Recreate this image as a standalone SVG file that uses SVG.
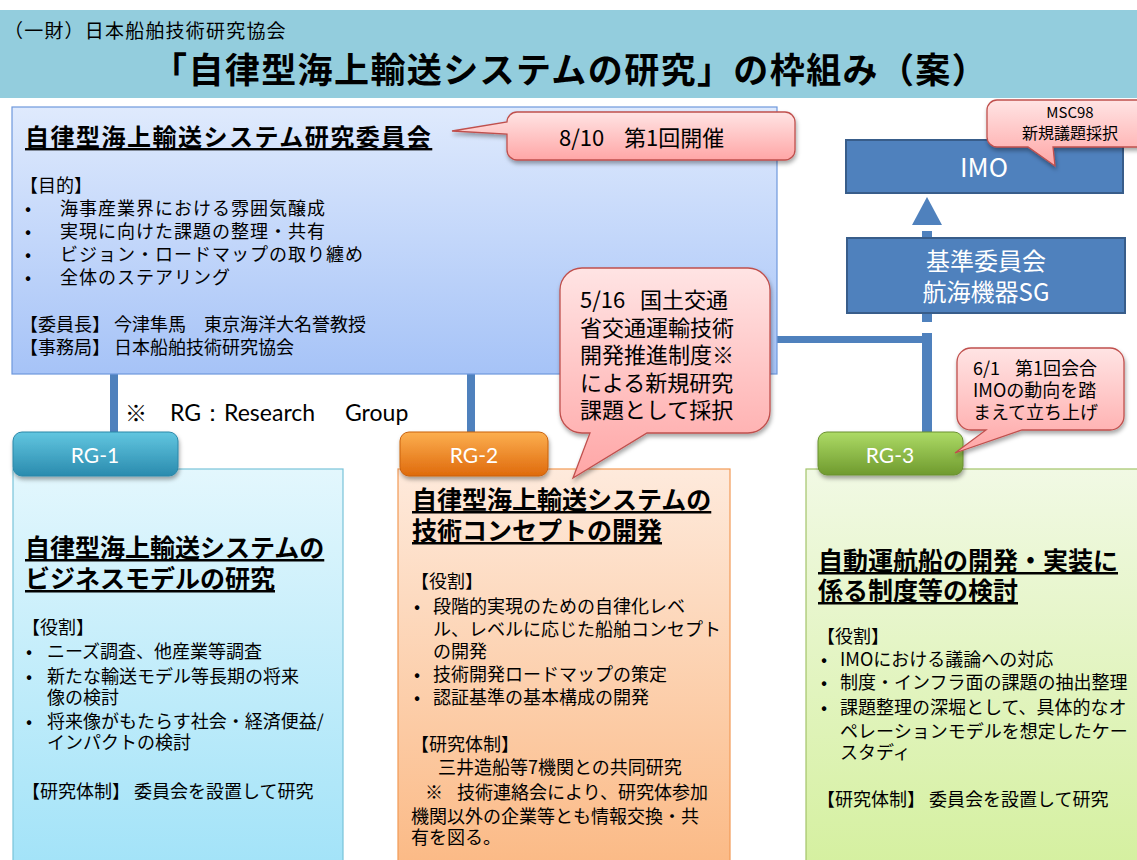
<svg xmlns="http://www.w3.org/2000/svg" width="1137" height="860" viewBox="0 0 1137 860">
<style>
.jp{font-family:"Noto Sans CJK JP","Noto Sans",sans-serif;fill:#000}
.body{font-size:18px}
.ttl{font-size:25px;font-weight:bold;text-decoration:underline}
.tab{font-family:Lato,"Open Sans",sans-serif;font-size:21px;fill:#fff;text-anchor:middle}
.wt{fill:#fff;text-anchor:middle}
.conn{fill:#4f81bd}
.call{stroke:#c0504d;stroke-width:1.3;fill:url(#gPink)}
</style>
<defs>
<linearGradient id="gMain" x1="0" y1="0" x2="0" y2="1"><stop offset="0" stop-color="#dfeafd"/><stop offset="1" stop-color="#a6c3f7"/></linearGradient>
<linearGradient id="gRG1" x1="0" y1="0" x2="0" y2="1"><stop offset="0" stop-color="#e3f7fd"/><stop offset="1" stop-color="#a3e3f8"/></linearGradient>
<linearGradient id="gRG2" x1="0" y1="0" x2="0" y2="1"><stop offset="0" stop-color="#feeadc"/><stop offset="1" stop-color="#fbba86"/></linearGradient>
<linearGradient id="gRG3" x1="0" y1="0" x2="0" y2="1"><stop offset="0" stop-color="#f1f9e4"/><stop offset="1" stop-color="#d5f0a0"/></linearGradient>
<linearGradient id="gPink" x1="0" y1="0" x2="0" y2="1"><stop offset="0" stop-color="#ffe4e4"/><stop offset="1" stop-color="#ffa6a6"/></linearGradient>
<linearGradient id="gT1" x1="0" y1="0" x2="0" y2="1"><stop offset="0" stop-color="#62c6e0"/><stop offset="1" stop-color="#2a8bae"/></linearGradient>
<linearGradient id="gT2" x1="0" y1="0" x2="0" y2="1"><stop offset="0" stop-color="#fcaf50"/><stop offset="1" stop-color="#df6a0c"/></linearGradient>
<linearGradient id="gT3" x1="0" y1="0" x2="0" y2="1"><stop offset="0" stop-color="#addb66"/><stop offset="1" stop-color="#6f9a2e"/></linearGradient>
<filter id="sh" x="-10%" y="-10%" width="130%" height="140%"><feDropShadow dx="1" dy="3" stdDeviation="2" flood-color="#000" flood-opacity="0.35"/></filter>
</defs>

<rect x="0" y="0" width="1137" height="860" fill="#fff"/>

<g id="header">
<rect x="0" y="10" width="1137" height="88" fill="#93cddd"/>
<text class="jp" x="4" y="38" font-size="19" letter-spacing="1.2">（一財）日本船舶技術研究協会</text>
<text class="jp" x="152" y="83" font-size="35" font-weight="bold" letter-spacing="1.4">「自律型海上輸送システムの研究」の枠組み（案）</text>
</g>

<g id="connectors">
<rect class="conn" x="110" y="372" width="8" height="62"/>
<rect class="conn" x="467" y="372" width="8" height="62"/>
<rect class="conn" x="776" y="336" width="156" height="7"/>
<rect class="conn" x="922" y="333" width="10" height="100"/>
<rect class="conn" x="922" y="312" width="10" height="10"/>
<rect class="conn" x="922" y="231" width="10" height="9"/>
<polygon class="conn" points="927,197 942,225 912,225"/>
</g>

<g id="main-committee">
<rect x="12" y="107" width="765" height="267" fill="url(#gMain)" stroke="#6e98dc" stroke-width="1.2"/>
<text class="jp ttl" x="25" y="146" letter-spacing="1.5" style="font-size:24px">自律型海上輸送システム研究委員会</text>
<g class="jp body">
<text x="20" y="192">【目的】</text>
<text x="25" y="215">•</text><text x="60" y="215" letter-spacing="1">海事産業界における雰囲気醸成</text>
<text x="25" y="238">•</text><text x="60" y="238" letter-spacing="1">実現に向けた課題の整理・共有</text>
<text x="25" y="261">•</text><text x="60" y="261" letter-spacing="1">ビジョン・ロードマップの取り纏め</text>
<text x="25" y="284">•</text><text x="60" y="284" letter-spacing="1">全体のステアリング</text>
<text x="20" y="331">【委員長】 今津隼馬　東京海洋大名誉教授</text>
<text x="20" y="354">【事務局】 日本船舶技術研究協会</text>
</g>
</g>

<g id="imo">
<rect x="846" y="140" width="277" height="53" fill="#4f81bd" stroke="#385d8a" stroke-width="2"/>
<text class="jp wt" x="984" y="177" font-size="26" style="fill:#fff">IMO</text>
</g>

<g id="kijun">
<rect x="847" y="238" width="278" height="75" fill="#4f81bd" stroke="#385d8a" stroke-width="2"/>
<text class="jp wt" x="986" y="270" font-size="24" style="fill:#fff">基準委員会</text>
<text class="jp wt" x="986" y="301" font-size="24" style="fill:#fff">航海機器SG</text>
</g>

<g id="rg-note">
<text class="jp" x="125" y="421" font-size="22">※</text>
<text x="170" y="421" font-family="Lato,'Open Sans',sans-serif" font-size="23" fill="#000">RG：Research</text>
<text x="345" y="421" font-family="Lato,'Open Sans',sans-serif" font-size="23" fill="#000">Group</text>
</g>

<g id="rg1">
<rect x="13" y="469" width="330" height="395" fill="url(#gRG1)" stroke="#79c3d9" stroke-width="1.2"/>
<rect x="13" y="432" width="165" height="44" rx="9" fill="url(#gT1)" stroke="#2a87a8" stroke-width="1" filter="url(#sh)"/>
<text class="tab" x="95" y="463">RG-1</text>
<text class="jp ttl" x="25" y="557">自律型海上輸送システムの</text>
<text class="jp ttl" x="25" y="588">ビジネスモデルの研究</text>
<g class="jp body">
<text x="22" y="634">【役割】</text>
<text x="26" y="658">•</text><text x="47" y="658">ニーズ調査、他産業等調査</text>
<text x="26" y="683">•</text><text x="47" y="683">新たな輸送モデル等長期の将来</text>
<text x="47" y="704">像の検討</text>
<text x="26" y="728">•</text><text x="47" y="728">将来像がもたらす社会・経済便益/</text>
<text x="47" y="749">インパクトの検討</text>
<text x="22" y="798">【研究体制】 委員会を設置して研究</text>
</g>
</g>

<g id="rg2">
<rect x="398" y="469" width="332" height="395" fill="url(#gRG2)" stroke="#f29a55" stroke-width="1.2"/>
<rect x="400" y="432" width="148" height="44" rx="9" fill="url(#gT2)" stroke="#c9600c" stroke-width="1" filter="url(#sh)"/>
<text class="tab" x="474" y="463">RG-2</text>
<text class="jp ttl" x="412" y="509">自律型海上輸送システムの</text>
<text class="jp ttl" x="412" y="540">技術コンセプトの開発</text>
<g class="jp body">
<text x="411" y="588">【役割】</text>
<text x="414" y="613">•</text><text x="433" y="613">段階的実現のための自律化レベ</text>
<text x="433" y="636">ル、レベルに応じた船舶コンセプト</text>
<text x="433" y="658">の開発</text>
<text x="414" y="681">•</text><text x="433" y="681">技術開発ロードマップの策定</text>
<text x="414" y="704">•</text><text x="433" y="704">認証基準の基本構成の開発</text>
<text x="411" y="751">【研究体制】</text>
<text x="438" y="774">三井造船等7機関との共同研究</text>
<text x="425" y="799">※</text><text x="457" y="799">技術連絡会により、研究体参加</text>
<text x="411" y="823">機関以外の企業等とも情報交換・共</text>
<text x="411" y="844">有を図る。</text>
</g>
</g>

<g id="rg3">
<rect x="806" y="469" width="340" height="395" fill="url(#gRG3)" stroke="#a3c46a" stroke-width="1.2"/>
<rect x="818" y="432" width="145" height="43" rx="9" fill="url(#gT3)" stroke="#6a9030" stroke-width="1" filter="url(#sh)"/>
<text class="tab" x="890" y="463">RG-3</text>
<text class="jp ttl" x="818" y="570">自動運航船の開発・実装に</text>
<text class="jp ttl" x="818" y="600">係る制度等の検討</text>
<g class="jp body">
<text x="817" y="643">【役割】</text>
<text x="821" y="666">•</text><text x="840" y="666">IMOにおける議論への対応</text>
<text x="821" y="689">•</text><text x="840" y="689">制度・インフラ面の課題の抽出整理</text>
<text x="821" y="714">•</text><text x="840" y="714">課題整理の深堀として、具体的なオ</text>
<text x="840" y="738">ペレーションモデルを想定したケー</text>
<text x="840" y="759">スタディ</text>
<text x="817" y="806">【研究体制】 委員会を設置して研究</text>
</g>
</g>

<g id="callout-810">
<path class="call" filter="url(#sh)" d="M517,112 H785 A10,10 0 0 1 795,122 V150 A10,10 0 0 1 785,160 H517 A10,10 0 0 1 507,150 V134 L452,131 L507,122 A10,10 0 0 1 517,112 Z"/>
<text class="jp" x="559" y="146" font-size="22">8/10</text>
<text class="jp" x="624" y="146" font-size="22">第1回開催</text>
</g>

<g id="callout-msc98">
<path class="call" filter="url(#sh)" d="M997,100 H1145 V147 H1053 L1055,166 L1028,147 H997 A10,10 0 0 1 987,137 V110 A10,10 0 0 1 997,100 Z"/>
<text class="jp" x="1070" y="118" font-size="15" text-anchor="middle">MSC98</text>
<text class="jp" x="1070" y="139" font-size="16" text-anchor="middle">新規議題採択</text>
</g>

<g id="callout-516">
<path class="call" filter="url(#sh)" d="M582,268 H748 A22,22 0 0 1 770,290 V411 A22,22 0 0 1 748,433 H647 L573,478 L590,433 H582 A22,22 0 0 1 560,411 V290 A22,22 0 0 1 582,268 Z"/>
<g class="jp" font-size="22">
<text x="580" y="308">5/16</text><text x="640" y="308">国土交通</text>
<text x="580" y="336">省交通運輸技術</text>
<text x="580" y="363">開発推進制度※</text>
<text x="580" y="391">による新規研究</text>
<text x="580" y="418">課題として採択</text>
</g>
</g>

<g id="callout-61">
<path class="call" filter="url(#sh)" d="M971,348 H1110 A14,14 0 0 1 1124,362 V416 A14,14 0 0 1 1110,430 H1022 L955,453 L986,430 H971 A14,14 0 0 1 957,416 V362 A14,14 0 0 1 971,348 Z"/>
<g class="jp" font-size="18">
<text x="973" y="375">6/1</text><text x="1015" y="375">第1回会合</text>
<text x="973" y="397">IMOの動向を踏</text>
<text x="973" y="419">まえて立ち上げ</text>
</g>
</g>
</svg>
